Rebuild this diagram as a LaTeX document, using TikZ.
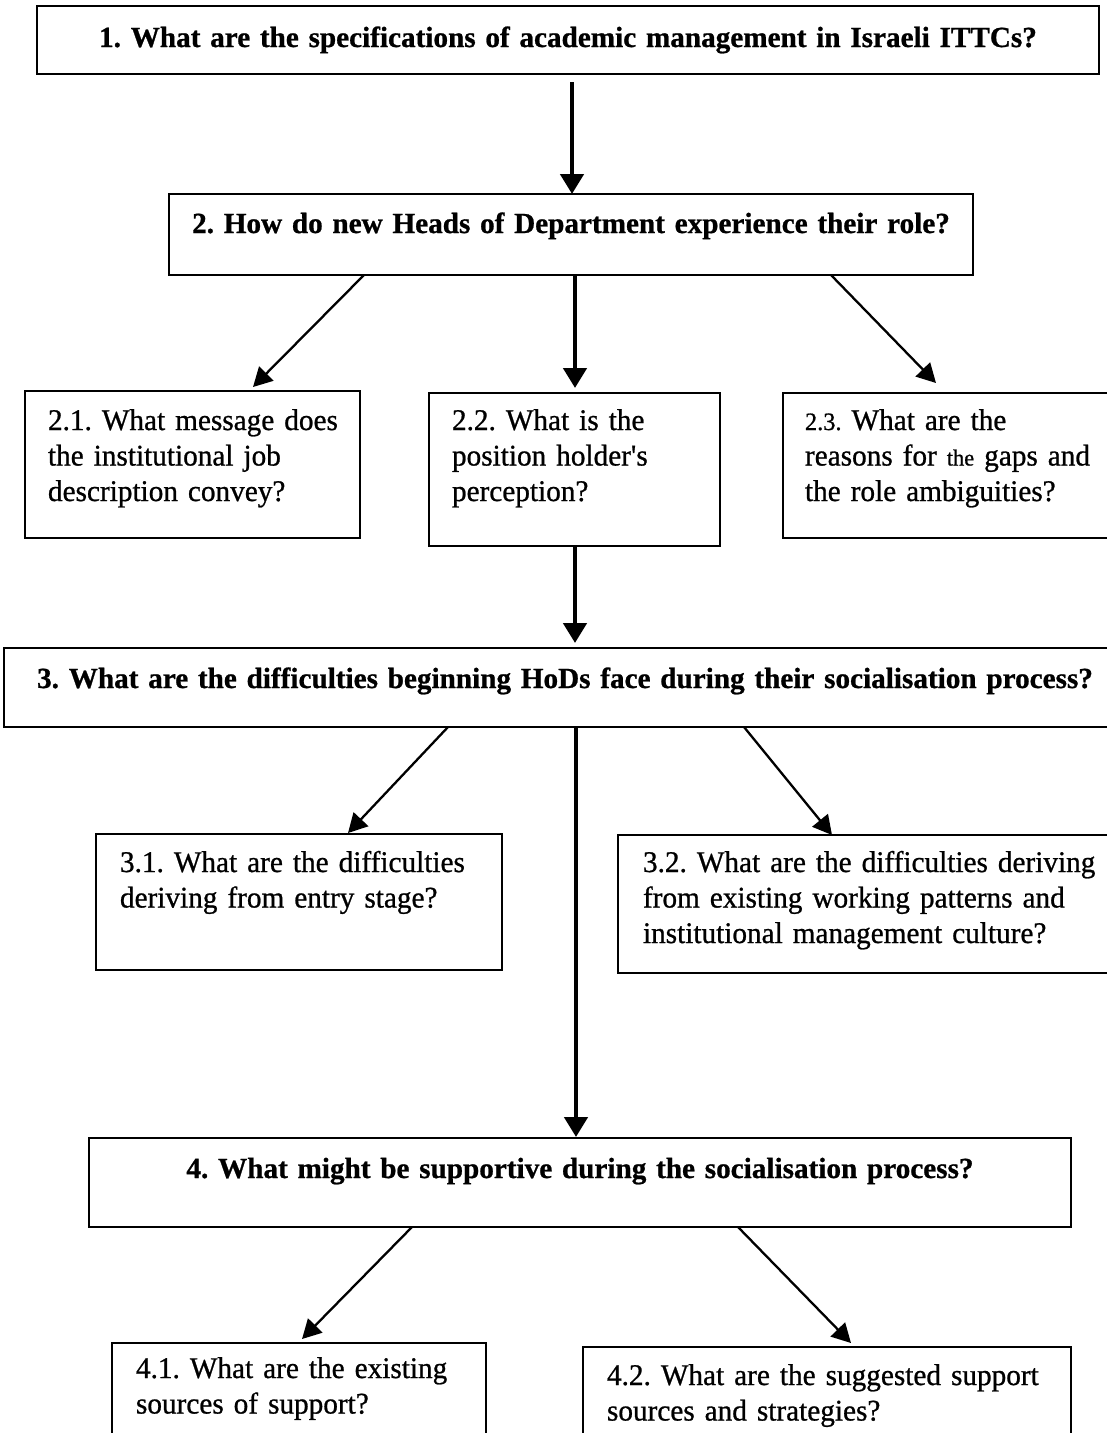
\documentclass[tikz,border=0pt]{standalone}
\usepackage{fontspec}
\setmainfont{Liberation Serif}[FakeBold=0.8, FakeStretch=0.975]
\newfontfamily\qheadfamily{Liberation Serif}[FakeBold=0.8, BoldFeatures={FakeBold=0.8}]
\usetikzlibrary{arrows.meta}
% text settings for the question boxes
\DeclareRobustCommand{\qtextfont}{\fontsize{30}{35.5}\selectfont\frenchspacing}
\DeclareRobustCommand{\qheadfont}{\qheadfamily\fontsize{29.2}{35.5}\selectfont\bfseries\frenchspacing}
\begin{document}
\begin{tikzpicture}[x=1pt,y=-1pt,
  every node/.style={font=\qtextfont},
  qbox/.style={draw, line width=2.8pt, inner ysep=0pt, outer sep=0pt,
    anchor=north west, align=left},
  headbox/.style={qbox, font=\qheadfont, align=center, inner xsep=0pt},
  thin link/.style={line width=2.3pt, -{Triangle[length=19pt,width=20pt]}},
  thick link/.style={line width=4.6pt, -{Triangle[length=20pt,width=23pt]}},
]
% page frame
\fill[white] (0,0) rectangle (1107,1433);
\useasboundingbox (0,0) rectangle (1107,1433);
\clip (0,0) rectangle (1107,1433);

% level 1
\node[headbox, text width=1062pt, text height=41pt, text depth=27pt] (b1) at (37,6)
  {\mbox{1. What are the specifications of academic management in Israeli ITTCs?}};

% level 2
\node[headbox, text width=804pt, text height=39pt, text depth=42pt] (b2) at (169,194)
  {\mbox{2. How do new Heads of Department experience their role?}};
\node[qbox, inner xsep=23pt, text width=289pt, text height=39pt, text depth=108pt] (b21) at (25,391)
  {\mbox{2.1. What message does}\\\mbox{the institutional job}\\\mbox{description convey?}};
\node[qbox, inner xsep=23pt, text width=245pt, text height=37pt, text depth=116pt] (b22) at (429,393)
  {\mbox{2.2. What is the}\\\mbox{position holder\textquotesingle s}\\\mbox{perception?}};
\node[qbox, inner xsep=22pt, text width=303pt, text height=37pt, text depth=108pt] (b23) at (783,393)
  {\mbox{{\fontsize{25}{35.5}\selectfont 2.3.} What are the}\\\mbox{reasons for {\fontsize{23}{35.5}\selectfont the} gaps and}\\\mbox{the role ambiguities?}};

% level 3
\node[headbox, text width=1122pt, text height=40pt, text depth=39pt] (b3) at (4,648)
  {\mbox{3. What are the difficulties beginning HoDs face during their socialisation process?}};
\node[qbox, inner xsep=24pt, text width=358pt, text height=38pt, text depth=98pt] (b31) at (96,834)
  {\mbox{3.1. What are the difficulties}\\\mbox{deriving from entry stage?}};
\node[qbox, inner xsep=25pt, text width=462pt, text height=37pt, text depth=101pt] (b32) at (618,835)
  {\mbox{3.2. What are the difficulties deriving}\\\mbox{from existing working patterns and}\\\mbox{institutional management culture?}};

% level 4
\node[headbox, text width=982pt, text height=40pt, text depth=49pt] (b4) at (89,1138)
  {\mbox{4. What might be supportive during the socialisation process?}};
\node[qbox, inner xsep=24pt, text width=326pt, text height=35pt, text depth=102pt] (b41) at (112,1343)
  {\mbox{4.1. What are the existing}\\\mbox{sources of support?}};
\node[qbox, inner xsep=24pt, text width=440pt, text height=38pt, text depth=95pt] (b42) at (583,1347)
  {\mbox{4.2. What are the suggested support}\\\mbox{sources and strategies?}};

% connectors
\draw[thick link] ([xshift=535pt,yshift=-8pt]b1.south west) -- ([xshift=403pt]b2.north west);
\draw[thin link]  ([xshift=195pt]b2.south west) -- ([xshift=228pt,yshift=4pt]b21.north west);
\draw[thick link] ([xshift=406pt]b2.south west) -- ([xshift=146pt,yshift=5pt]b22.north west);
\draw[thin link]  ([xshift=662pt]b2.south west) -- ([xshift=153pt,yshift=10pt]b23.north west);
\draw[thick link] ([xshift=146pt]b22.south west) -- ([xshift=571pt,yshift=5pt]b3.north west);
\draw[thin link]  ([xshift=444pt]b3.south west) -- ([xshift=252pt,yshift=1pt]b31.north west);
\draw[thick link] ([xshift=572pt]b3.south west) -- ([xshift=487pt,yshift=1pt]b4.north west);
\draw[thin link]  ([xshift=740pt]b3.south west) -- ([xshift=214pt]b32.north west);
\draw[thin link]  ([xshift=323pt]b4.south west) -- ([xshift=190pt,yshift=4pt]b41.north west);
\draw[thin link]  ([xshift=649pt]b4.south west) -- ([xshift=268pt,yshift=4pt]b42.north west);
\end{tikzpicture}
\end{document}
